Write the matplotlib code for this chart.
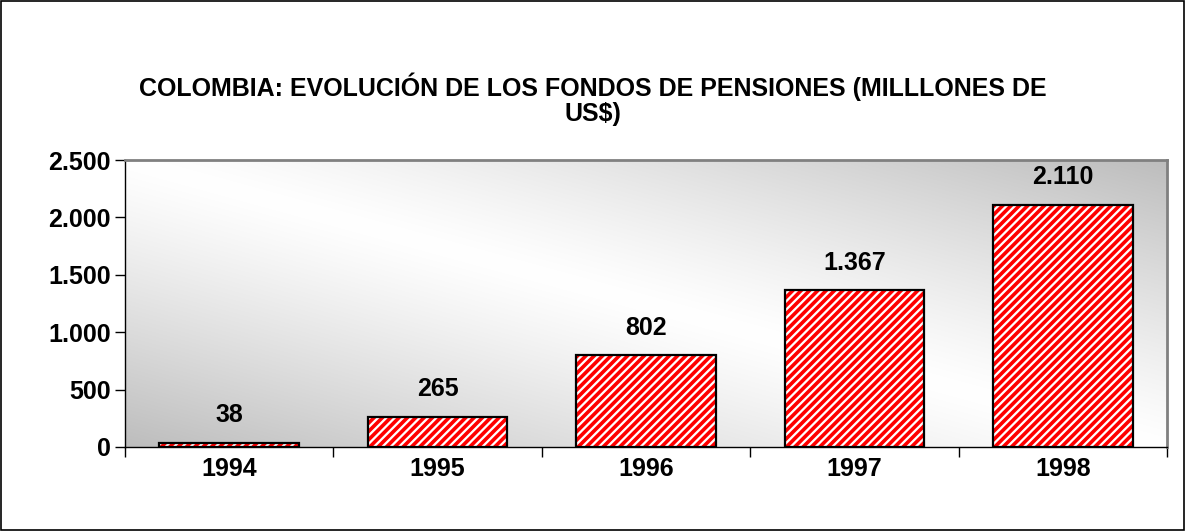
import numpy as np
import matplotlib
matplotlib.use("Agg")
import matplotlib.pyplot as plt
from matplotlib.patches import Rectangle

years = ["1994", "1995", "1996", "1997", "1998"]
values = [38, 265, 802, 1367, 2110]
value_labels = ["38", "265", "802", "1.367", "2.110"]
yticks = [0, 500, 1000, 1500, 2000, 2500]
ytick_labels = ["0", "500", "1.000", "1.500", "2.000", "2.500"]
title = "COLOMBIA: EVOLUCIÓN DE LOS FONDOS DE PENSIONES (MILLLONES DE\nUS$)"

plt.rcParams['font.family'] = ['Liberation Sans', 'DejaVu Sans']
plt.rcParams['hatch.linewidth'] = 2.6
plt.rcParams['hatch.color'] = '#ff0000'

fig = plt.figure(figsize=(11.86, 5.31), dpi=100)
# outer border
fig.patches.append(Rectangle((0.0005, 0.001), 0.998, 0.997, transform=fig.transFigure,
                             fill=False, edgecolor='black', linewidth=1.2))

W, H = 1186, 531
left, right, top, bottom = 125, 1167, 160, 447
ax = fig.add_axes([left / W, 1 - bottom / H, (right - left) / W, (bottom - top) / H])

# gradient background
nx, ny = 400, 200
xs = np.linspace(0, 1, nx)
ys = np.linspace(0, 1, ny)
X, Y = np.meshgrid(xs, ys)
d = np.abs(X + Y - 1)
g = 1.0 - 0.26 * np.clip(d, 0, 1) ** 1.2
img = np.dstack([g, g, g])
ax.imshow(img, extent=[0, 1, 0, 1], transform=ax.transAxes, origin='lower',
          aspect='auto', zorder=0, interpolation='bilinear')

x = np.arange(len(years))
ax.bar(x, values, width=0.67, color='white', edgecolor='#ff0000', hatch='////',
       linewidth=0, zorder=2)
ax.bar(x, values, width=0.67, fill=False, edgecolor='black', linewidth=1.6, zorder=3)

fs = 18
for xi, v, lab in zip(x, values, value_labels):
    ax.annotate(lab, (xi, v), xytext=(0, 11), textcoords='offset points',
                ha='center', va='bottom', fontsize=fs, fontweight='bold', zorder=4)

ax.set_xlim(-0.5, len(years) - 0.5)
ax.set_ylim(0, 2500)
ax.set_yticks(yticks)
ax.set_yticklabels(ytick_labels, fontsize=fs, fontweight='bold')
ax.set_xticks(x)
ax.set_xticklabels(years, fontsize=fs, fontweight='bold')
ax.tick_params(axis='x', length=0, pad=7)
ax.set_xticks(np.arange(-0.5, len(years)), minor=True)
ax.tick_params(axis='x', which='minor', length=7, width=1, direction='out')
ax.tick_params(axis='y', length=7, width=1, direction='out', pad=3)

for s in ['left', 'bottom']:
    ax.spines[s].set_color('black')
    ax.spines[s].set_linewidth(1)
for s in ['top', 'right']:
    ax.spines[s].set_color('#808080')
    ax.spines[s].set_linewidth(2)

fig.text(593 / W, 1 - 99 / H, title, ha='center', va='center', fontsize=fs,
         fontweight='bold', linespacing=1.05)

fig.savefig("out.png", dpi=100)
